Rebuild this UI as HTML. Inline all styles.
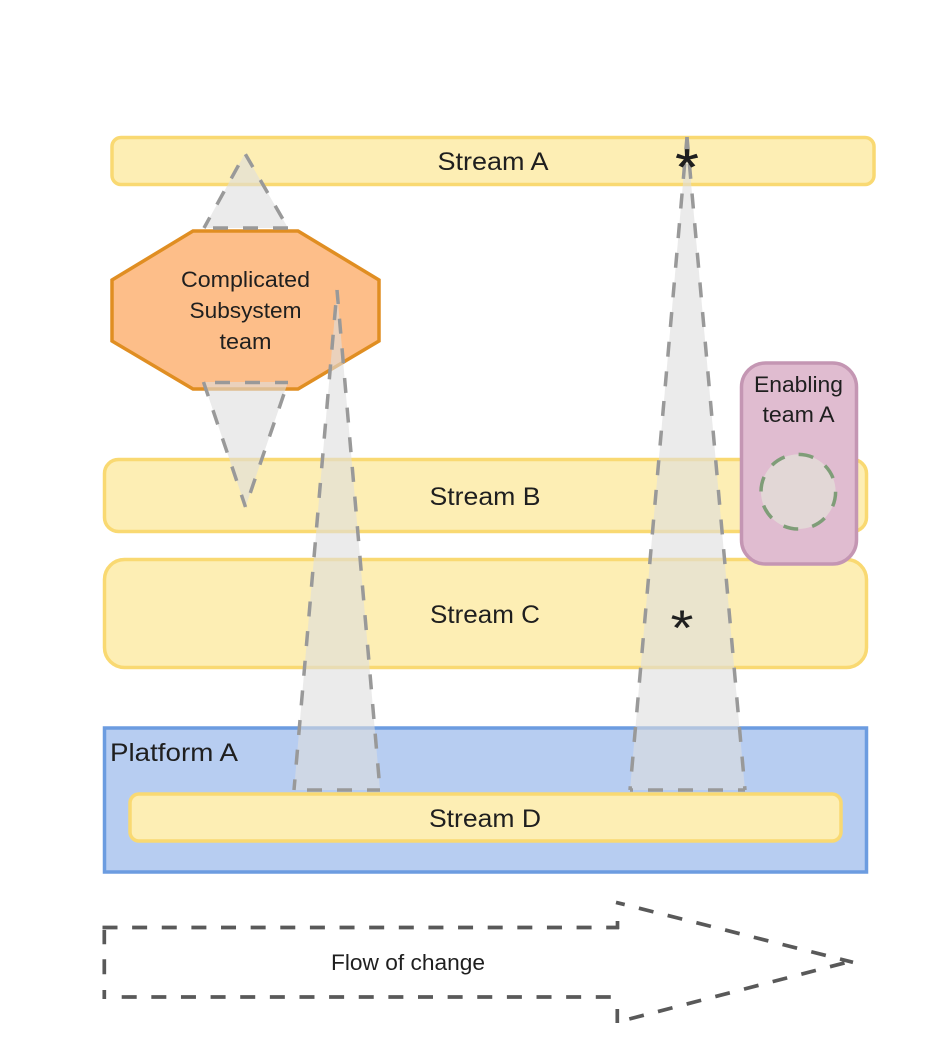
<!DOCTYPE html>
<html lang="en">
<head>
<meta charset="utf-8">
<title>Team topology diagram</title>
<style>
html,body{margin:0;padding:0;background:#fff}
svg{display:block}
text{font-family:"Liberation Sans","DejaVu Sans",sans-serif;fill:#1f1f1f;text-anchor:middle}
.tf{fill:#dedede;fill-opacity:.6;stroke:none}
.td{fill:none;stroke:#999;stroke-width:3.5;stroke-dasharray:15 14.75}
.tb{fill:none;stroke:#999;stroke-width:3.5;stroke-dasharray:15 15}
.ar{fill:none;stroke:#595959;stroke-width:3.7}
.ad{stroke-dasharray:15 14.63}
</style>
</head>
<body>
<svg width="949" height="1053" viewBox="0 0 949 1053" xmlns="http://www.w3.org/2000/svg">
<rect width="949" height="1053" fill="#fff"/>

<!-- Streams -->
<rect x="112" y="137.500" width="762" height="47" rx="9" fill="#fdeeb4" stroke="#f9d972" stroke-width="3.500"/>
<rect x="104.500" y="459.500" width="762" height="72" rx="14" fill="#fdeeb4" stroke="#f9d972" stroke-width="3.500"/>
<rect x="104.500" y="559.500" width="762" height="108" rx="20" fill="#fdeeb4" stroke="#f9d972" stroke-width="3.500"/>

<!-- Platform -->
<rect x="104.500" y="728" width="762" height="144" fill="#b7cdf1" stroke="#6c9ce0" stroke-width="3.500"/>

<!-- Complicated subsystem -->
<polygon points="193,231 298,231 379,280 379,341 298,389 193,389 112,341 112,280" fill="#fdbe89" stroke="#e08e22" stroke-width="3.500"/>

<!-- Top triangle -->
<polygon class="tf" points="245,153.500 288,228 204,228"/>
<path class="td" d="M245,153.500L288,228" stroke-dashoffset="-0.8"/>
<path class="td" d="M245,153.500L204,228" stroke-dashoffset="16.25"/>
<path class="tb" d="M288,228H204"/>

<!-- Lower triangle -->
<polygon class="tf" points="203.500,382 288,382 245.500,507"/>
<path class="td" d="M203.500,382L245.500,507"/>
<path class="td" d="M288,382L245.500,507" stroke-dashoffset="16.85"/>
<path class="tb" d="M203.500,382.500H288" stroke-dashoffset="18.5"/>

<!-- Tall triangle 1 -->
<polygon class="tf" points="337,290 380,790 294,790"/>
<path class="td" d="M337,290L380,790" stroke-dashoffset="0.95"/>
<path class="td" d="M337,290L294,790" stroke-dashoffset="14.6"/>
<path class="tb" d="M380,790H294" stroke-dashoffset="2"/>

<!-- Tall triangle 2 -->
<polygon class="tf" points="687,137 745,790 630,790"/>
<path class="td" d="M687,137L745,790" stroke-dashoffset="2.75"/>
<path class="td" d="M687,137L630,790" stroke-dashoffset="2.75"/>
<path class="tb" d="M745,790H630" stroke-dashoffset="8"/>

<!-- Enabling team -->
<rect x="741.500" y="363" width="115" height="201" rx="24" fill="#e0bcd0" stroke="#c496b3" stroke-width="3.500"/>
<circle cx="798.300" cy="491.700" r="37.300" fill="#e2d7d6" stroke="#7f9d78" stroke-width="3.500" stroke-dasharray="15 14.3"/>

<!-- Stream D -->
<rect x="130" y="794" width="711" height="47" rx="9" fill="#fdeeb4" stroke="#f9d972" stroke-width="3.500"/>

<!-- Flow arrow -->
<path class="ar ad" d="M102.500,927.500H619"/>
<path class="ar" d="M617.500,929V921"/>
<path class="ar" d="M104.300,930V944.300M104.300,959.300V974.300M104.300,990V999"/>
<path class="ar ad" d="M121.700,997H611"/>
<path class="ar" d="M617.300,1009V1023"/>
<path class="ar ad" d="M616,902.400L853,962.300" stroke-dashoffset="6"/>
<path class="ar ad" d="M629.300,1019L853,960.700"/>

<!-- Labels -->
<text x="493" y="170" font-size="25" textLength="111" lengthAdjust="spacingAndGlyphs">Stream A</text>
<text x="485" y="505" font-size="25" textLength="111" lengthAdjust="spacingAndGlyphs">Stream B</text>
<text x="485" y="623" font-size="25" textLength="110" lengthAdjust="spacingAndGlyphs">Stream C</text>
<text x="485" y="827" font-size="25" textLength="112" lengthAdjust="spacingAndGlyphs">Stream D</text>
<text x="174" y="761" font-size="25" textLength="128" lengthAdjust="spacingAndGlyphs">Platform A</text>
<text x="245.500" y="287" font-size="22" textLength="129" lengthAdjust="spacingAndGlyphs">Complicated</text>
<text x="245.500" y="318" font-size="22" textLength="112" lengthAdjust="spacingAndGlyphs">Subsystem</text>
<text x="245.500" y="349" font-size="22" textLength="52" lengthAdjust="spacingAndGlyphs">team</text>
<text x="798.500" y="392" font-size="22" textLength="89" lengthAdjust="spacingAndGlyphs">Enabling</text>
<text x="798.500" y="422" font-size="22" textLength="72" lengthAdjust="spacingAndGlyphs">team A</text>
<text x="408" y="970" font-size="22" textLength="154" lengthAdjust="spacingAndGlyphs">Flow of change</text>
<text x="687" y="184" font-size="50" textLength="23" lengthAdjust="spacingAndGlyphs" style="stroke:#1f1f1f;stroke-width:.7">*</text>
<text x="682" y="645" font-size="50" textLength="23" lengthAdjust="spacingAndGlyphs">*</text>
</svg>
</body>
</html>
